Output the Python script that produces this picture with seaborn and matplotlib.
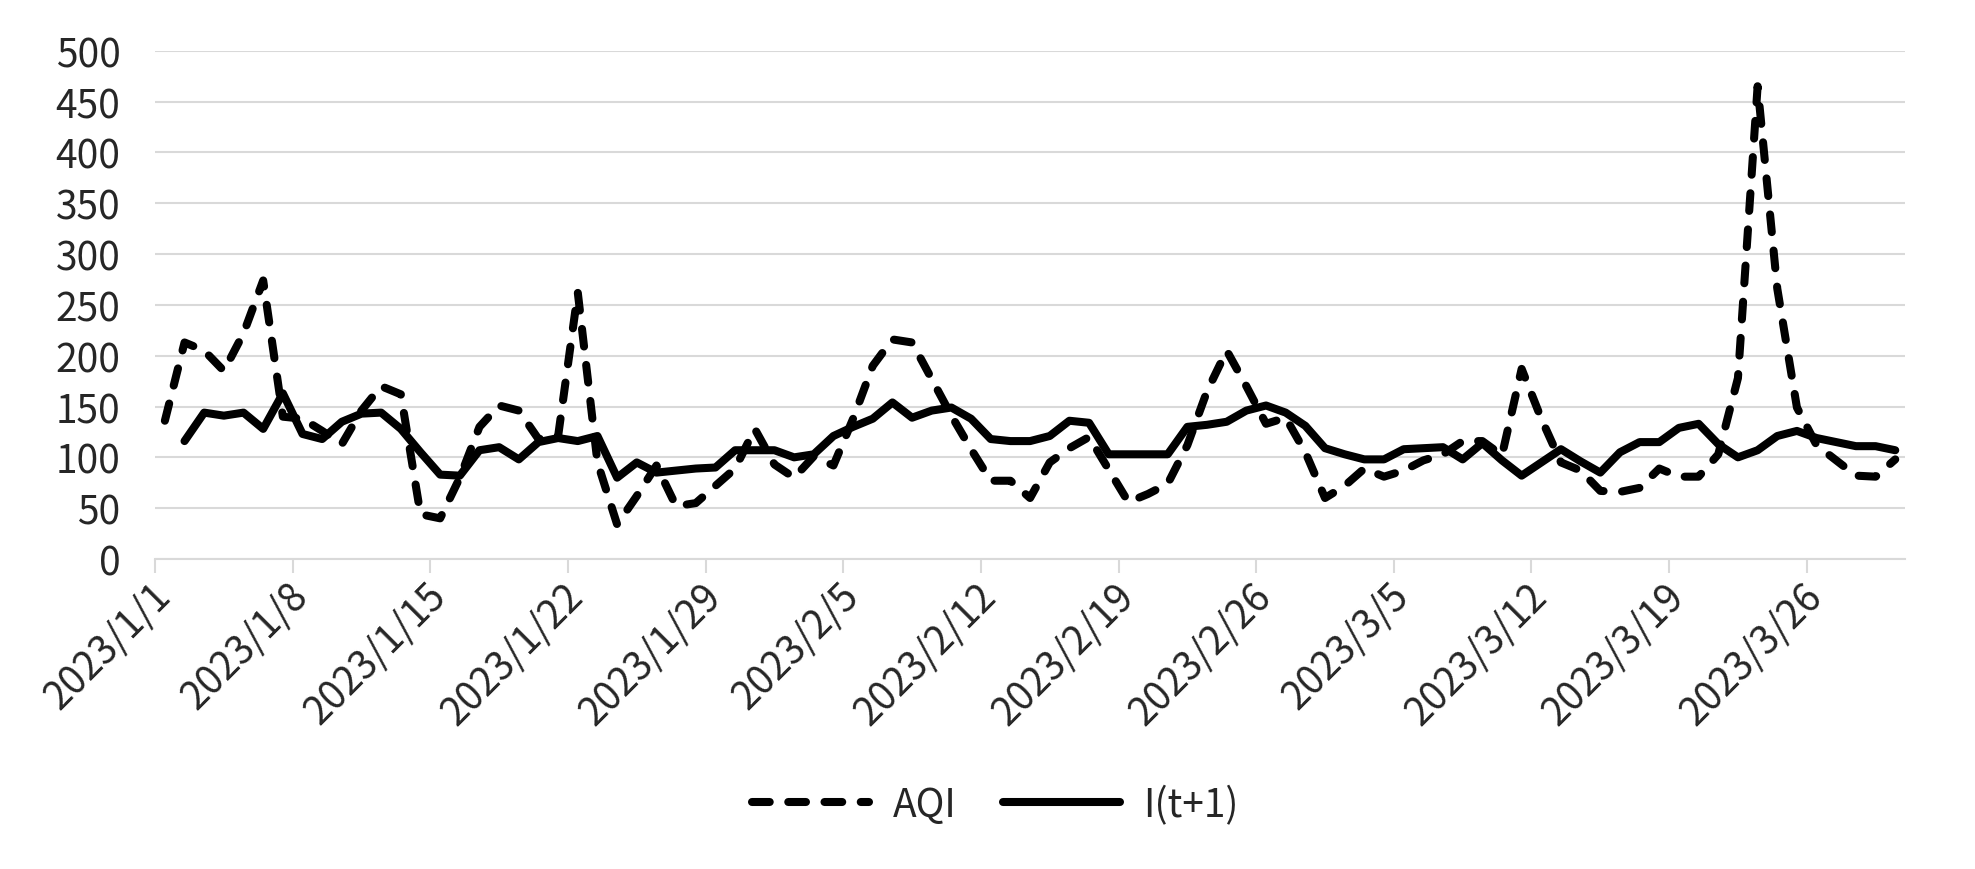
import numpy as np
import pandas as pd
import matplotlib
matplotlib.use("Agg")
import matplotlib.pyplot as plt
import matplotlib.transforms as mtransforms
from matplotlib.lines import Line2D
import seaborn as sns

# ---------------- data ----------------
start_date = "2023-01-01"
n_days = 89
aqi = [136, 213, 205, 185, 222, 274, 140, 138, 126, 113,
       146, 170, 162, 44, 40, 80, 130, 151, 146, 118,
       121, 262, 95, 34, 62, 92, 52, 55, 72, 89,
       128, 93, 80, 101, 92, 138, 190, 216, 213, 177,
       141, 108, 77, 77, 60, 95, 109, 120, 88, 56,
       64, 74, 112, 165, 205, 170, 133, 139, 105, 60,
       72, 89, 81, 87, 97, 103, 116, 116, 102, 187,
       138, 95, 87, 67, 66, 70, 89, 81, 81, 103,
       178, 465, 266, 149, 112, 97, 82, 81, 98]
i_t1 = [np.nan, 116, 144, 141, 144, 128, 163, 123, 118, 135,
        143, 144, 128, 105, 83, 82, 107, 110, 98, 115,
        119, 116, 121, 80, 95, 85, 87, 89, 90, 107,
        107, 107, 100, 103, 121, 130, 138, 154, 139, 146,
        149, 138, 118, 116, 116, 121, 136, 134, 103, 103,
        103, 103, 130, 132, 135, 146, 151, 144, 131, 109,
        103, 98, 98, 108, 109, 110, 98, 114, 97, 82,
        95, 108, 96, 85, 105, 115, 115, 129, 133, 113,
        100, 107, 121, 126, 119, 115, 111, 111, 107]
series_names = ["AQI", "I(t+1)"]
tick_dates = ["2023-01-01", "2023-01-08", "2023-01-15", "2023-01-22", "2023-01-29",
              "2023-02-05", "2023-02-12", "2023-02-19", "2023-02-26", "2023-03-05",
              "2023-03-12", "2023-03-19", "2023-03-26"]
tick_labels = ["2023/1/1", "2023/1/8", "2023/1/15", "2023/1/22", "2023/1/29",
               "2023/2/5", "2023/2/12", "2023/2/19", "2023/2/26", "2023/3/5",
               "2023/3/12", "2023/3/19", "2023/3/26"]
y_ticks = [0, 50, 100, 150, 200, 250, 300, 350, 400, 450, 500]

# ---------------- build ----------------
dates = pd.date_range(start_date, periods=n_days, freq="D") + pd.Timedelta(hours=12)
df = pd.DataFrame({"date": dates, series_names[0]: aqi, series_names[1]: i_t1})

sns.set_theme(style="white")
plt.rcParams["font.family"] = ["Noto Sans CJK SC", "DejaVu Sans"]

fig = plt.figure(figsize=(19.75, 8.7), dpi=100)
ax = fig.add_axes([0.0785, 0.3563, 0.8861, 0.5843])

FS = 28
LW = 5.8
sns.lineplot(data=df, x="date", y=series_names[0], ax=ax, color="black",
             linewidth=LW, dashes=False)
sns.lineplot(data=df, x="date", y=series_names[1], ax=ax, color="black",
             linewidth=LW, dashes=False)
lines = ax.get_lines()
lines[0].set_dashes((2.2, 2.3))
lines[0].set_dash_capstyle("round")
lines[0].set_solid_joinstyle("round")
lines[1].set_solid_capstyle("round")
lines[1].set_solid_joinstyle("round")
lines[1].set_zorder(3)
lines[0].set_zorder(4)

ax.set_xlim(pd.Timestamp(start_date), pd.Timestamp(start_date) + pd.Timedelta(days=n_days))
ax.set_ylim(0, 500)
ax.set_yticks(y_ticks)
ax.set_yticklabels([str(v) for v in y_ticks], fontsize=FS, color="#262626")
tick_ts = [pd.Timestamp(d) for d in tick_dates]
ax.set_xticks(tick_ts)
ax.set_xticklabels([""] * len(tick_ts))

# rotated date labels, placed like the reference (slightly right of each tick)
offset = mtransforms.ScaledTranslation(0.23, -0.16, fig.dpi_scale_trans)
lab_tr = ax.get_xaxis_transform() + offset
for t, lab in zip(tick_ts, tick_labels):
    ax.text(t, 0, lab, transform=lab_tr, rotation=45, ha="right", va="top",
            rotation_mode="default", fontsize=FS, color="#262626", clip_on=False)

ax.set_xlabel("")
ax.set_ylabel("")
ax.grid(axis="y", color="#d9d9d9", linewidth=1.5)
ax.grid(axis="x", visible=False)
for s in ["left", "right", "top"]:
    ax.spines[s].set_visible(False)
ax.spines["bottom"].set_color("#d9d9d9")
ax.spines["bottom"].set_linewidth(1.5)
ax.tick_params(axis="x", which="major", length=10, width=1.5, color="#d9d9d9",
               pad=4, bottom=True)
ax.tick_params(axis="y", length=0, pad=25)

handles = [Line2D([], [], color="black", linewidth=LW, dashes=(2.2, 2.3),
                  dash_capstyle="round"),
           Line2D([], [], color="black", linewidth=LW, solid_capstyle="round")]
fig.legend(handles, series_names, loc="center", bbox_to_anchor=(0.504, 0.0736),
           ncol=2, frameon=False, fontsize=FS, handlelength=3.0,
           handletextpad=0.6, columnspacing=1.2)

fig.savefig("out.png", dpi=100, facecolor="white")
